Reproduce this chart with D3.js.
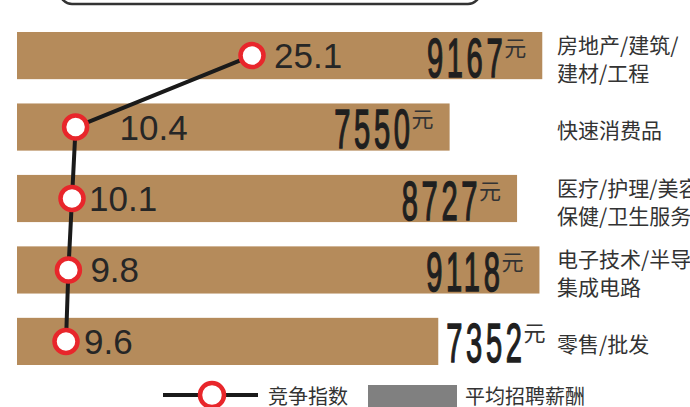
<!doctype html>
<html lang="zh">
<head>
<meta charset="utf-8">
<title>竞争指数与平均招聘薪酬</title>
<style>
  body { margin: 0; background: #fff; }
  svg { display: block; }
  .cat { font-family: "Noto Sans CJK SC", sans-serif; font-size: 21px; fill: #333; }
  .idx { font-family: "Liberation Sans", Arial, sans-serif; font-size: 35px; fill: #262626; }
  .pay { font-family: "Liberation Sans", Arial, sans-serif; font-size: 56px; letter-spacing: 7px; fill: #1f1f1f; stroke: #1f1f1f; stroke-width: 1.5; }
  .yuan { font-family: "Noto Sans CJK SC", sans-serif; font-size: 22px; fill: #333; }
  .leg { font-family: "Noto Sans CJK SC", sans-serif; font-size: 20px; fill: #333; }
</style>
</head>
<body>
<div id="chart"></div>
<script src="https://cdn.jsdelivr.net/npm/d3@7"></script>
<script>
// data
var categories = ["房地产/建筑/建材/工程", "快速消费品", "医疗/护理/美容保健/卫生服务", "电子技术/半导体集成电路", "零售/批发"];
var catLines = [["房地产/建筑/", "建材/工程"], ["快速消费品"], ["医疗/护理/美容", "保健/卫生服务"], ["电子技术/半导体", "集成电路"], ["零售/批发"]];
var salary = [9167, 7550, 8727, 9118, 7352];
var index = [25.1, 10.4, 10.1, 9.8, 9.6];

var width = 690, height = 407;
var barColor = "#b58b5b";
var squeeze = 0.52;

var svg = d3.select("#chart").append("svg")
  .attr("width", width)
  .attr("height", height);

var y = d3.scaleBand()
  .domain(categories)
  .range([32, 365])
  .paddingInner(0.34)
  .paddingOuter(0);

var xPay = d3.scaleLinear().domain([0, 10000]).range([17, 590]);
var xIdx = d3.scaleLinear().domain([9.6, 25.1]).range([66, 252]);

// frame piece at the top (cut off by the picture edge)
svg.append("rect")
  .attr("x", 60).attr("y", -40)
  .attr("width", 420).attr("height", 44)
  .attr("rx", 12)
  .attr("fill", "none")
  .attr("stroke", "#333")
  .attr("stroke-width", 2.5);

// bars
svg.selectAll(".bar")
  .data(categories)
  .enter().append("rect")
  .attr("class", "bar")
  .attr("x", xPay(0))
  .attr("y", function(d) { return y(d); })
  .attr("width", function(d, i) { return xPay(salary[i]) - xPay(0); })
  .attr("height", y.bandwidth())
  .attr("fill", barColor);

// salary labels
var pay = svg.selectAll(".payg")
  .data(categories)
  .enter().append("g")
  .attr("class", "payg");

pay.append("text")
  .attr("class", "pay")
  .attr("transform", "scale(" + squeeze + ",1)")
  .text(function(d, i) { return salary[i]; });

pay.append("text")
  .attr("class", "yuan")
  .attr("y", -21)
  .text("元");

pay.each(function(d, i) {
  var g = d3.select(this);
  var w = g.select(".pay").node().getComputedTextLength() * squeeze;
  g.select(".yuan").attr("x", w - 2);
  var total = w + 24;
  var end = xPay(salary[i]);
  var cy = y(d) + y.bandwidth() / 2;
  var last = i === categories.length - 1;
  var x0 = last ? end + 8 : end - 12 - total;
  g.attr("transform", "translate(" + x0 + "," + (cy + 21) + ")");
});

// category labels
var cats = svg.selectAll(".cat")
  .data(categories)
  .enter().append("text")
  .attr("class", "cat")
  .attr("x", 557)
  .attr("y", function(d) { return y(d) + y.bandwidth() / 2; });

cats.each(function(d, i) {
  var t = d3.select(this);
  var lines = catLines[i];
  lines.forEach(function(s, j) {
    var dy = lines.length === 1 ? 11 : -3;
    t.append("tspan")
      .attr("x", 557)
      .attr("dy", j === 0 ? dy : 28)
      .text(s);
  });
});

// competition index line
var pts = categories.map(function(d, i) {
  return [xIdx(index[i]), y(d) + y.bandwidth() / 2];
});

svg.append("path")
  .attr("d", d3.line()(pts))
  .attr("fill", "none")
  .attr("stroke", "#1a1a1a")
  .attr("stroke-width", 4);

svg.selectAll(".dot")
  .data(pts)
  .enter().append("circle")
  .attr("class", "dot")
  .attr("cx", function(d) { return d[0]; })
  .attr("cy", function(d) { return d[1]; })
  .attr("r", 11.5)
  .attr("fill", "#fff")
  .attr("stroke", "#e8262b")
  .attr("stroke-width", 4.5);

var labelDx = [22, 44, 17, 22, 18];
svg.selectAll(".idx")
  .data(pts)
  .enter().append("text")
  .attr("class", "idx")
  .attr("x", function(d, i) { return d[0] + labelDx[i]; })
  .attr("y", function(d) { return d[1] + 12.5; })
  .text(function(d, i) { return index[i]; });

// legend
var leg = svg.append("g");
leg.append("line")
  .attr("x1", 163).attr("x2", 258)
  .attr("y1", 395).attr("y2", 395)
  .attr("stroke", "#1a1a1a")
  .attr("stroke-width", 4);
leg.append("circle")
  .attr("cx", 212).attr("cy", 395).attr("r", 12)
  .attr("fill", "#fff")
  .attr("stroke", "#e8262b")
  .attr("stroke-width", 4.5);
leg.append("text")
  .attr("class", "leg")
  .attr("x", 268).attr("y", 404)
  .text("竞争指数");
leg.append("rect")
  .attr("x", 368).attr("y", 385)
  .attr("width", 89).attr("height", 30)
  .attr("fill", "#808080");
leg.append("text")
  .attr("class", "leg")
  .attr("x", 465).attr("y", 404)
  .text("平均招聘薪酬");
</script>
</body>
</html>
